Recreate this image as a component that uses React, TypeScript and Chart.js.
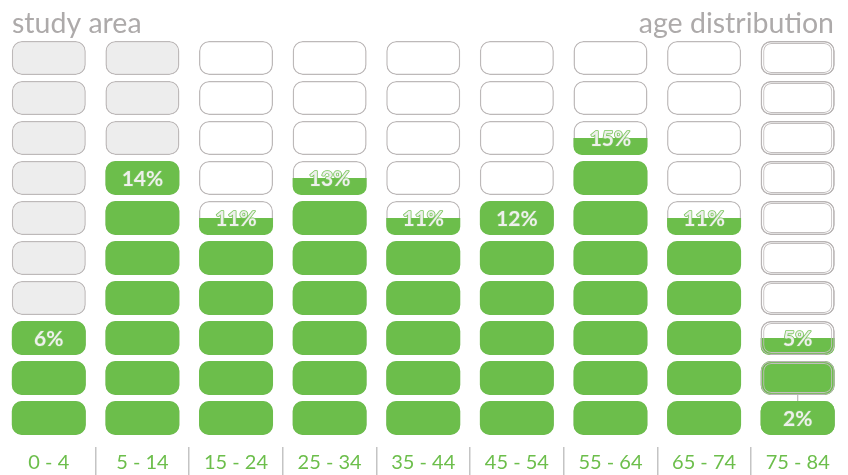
import React, { useEffect, useRef } from 'react';
import { Chart, registerables } from 'chart.js';

Chart.register(...registerables);

// ---- data ----
const categories = ['0 - 4', '5 - 14', '15 - 24', '25 - 34', '35 - 44', '45 - 54', '55 - 64', '65 - 74', '75 - 84'];
const shareValues = [6, 14, 11, 13, 11, 12, 15, 11, 5];
const subShareValues = [null, null, null, null, null, null, null, null, 2];
const titleLeft = 'study area';
const titleRight = 'age distribution';

// ---- style ----
const ROWS = 10;
const STEP = 2; // percent per cell
const GAP = 0.15;
const GREEN = '#6cbe4b';
const CELL_BORDER = '#bdb9b9';
const shadedColumns = [0, 1];
const doubleOutlineColumns = [8];
const BAR = 74 / 93.6;
const BAR_INNER = 69 / 93.6;
const RADIUS = 10;

const cellLo = (r: number) => r * STEP + GAP;
const cellHi = (r: number) => r * STEP + STEP - GAP;

const common = { grouped: false, categoryPercentage: 1, borderSkipped: false as const };

function buildDatasets() {
  const ds: any[] = [];
  for (let r = 0; r < ROWS; r++) {
    ds.push({
      ...common,
      label: 'cell' + r,
      data: categories.map(() => [cellLo(r), cellHi(r)]),
      backgroundColor: categories.map((_, i) => (shadedColumns.includes(i) ? '#ededed' : '#ffffff')),
      borderColor: CELL_BORDER,
      borderWidth: 1.5,
      borderRadius: RADIUS,
      barPercentage: BAR,
      order: 6,
    });
    ds.push({
      ...common,
      label: 'fill' + r,
      data: shareValues.map((v) => (v > cellLo(r) ? [cellLo(r), Math.min(v, cellHi(r))] : null)),
      backgroundColor: GREEN,
      borderWidth: 0,
      borderRadius: (c: any) => {
        const v = shareValues[c.dataIndex];
        return v >= cellHi(r)
          ? RADIUS
          : { topLeft: 0, topRight: 0, bottomLeft: RADIUS, bottomRight: RADIUS };
      },
      barPercentage: BAR,
      order: 5,
    });
    ds.push({
      ...common,
      label: 'outlineOuter' + r,
      data: categories.map((_, i) => (doubleOutlineColumns.includes(i) ? [cellLo(r), cellHi(r)] : null)),
      backgroundColor: 'rgba(0,0,0,0)',
      borderColor: '#b8b4b4',
      borderWidth: 1.3,
      borderRadius: RADIUS,
      barPercentage: BAR,
      order: 3,
    });
    ds.push({
      ...common,
      label: 'outlineInner' + r,
      data: categories.map((_, i) => (doubleOutlineColumns.includes(i) ? [cellLo(r) + 0.1, cellHi(r) - 0.1] : null)),
      backgroundColor: 'rgba(0,0,0,0)',
      borderColor: '#c2bebe',
      borderWidth: 1,
      borderRadius: 8,
      barPercentage: BAR_INNER,
      order: 3,
    });
    if (subShareValues.some((v) => v != null && v > cellLo(r))) {
      ds.push({
        ...common,
        label: 'sub' + r,
        data: subShareValues.map((v) => (v != null && v > cellLo(r) ? [cellLo(r), Math.min(v, cellHi(r))] : null)),
        backgroundColor: GREEN,
        borderWidth: 0,
        borderRadius: RADIUS,
        barPercentage: BAR,
        order: 1,
      });
    }
  }
  ds.push({
    ...common,
    label: 'connector',
    data: subShareValues.map((v) => (v != null ? [v - GAP, v + GAP] : null)),
    backgroundColor: CELL_BORDER,
    borderWidth: 0,
    barPercentage: 0.013,
    order: 2,
  });
  return ds;
}

const labelPlugin = {
  id: 'cellLabels',
  afterDatasetsDraw(chart: any) {
    const { ctx, scales } = chart;
    const x = scales.x;
    const y = scales.y;
    ctx.save();
    ctx.font = 'bold 21px Lato';
    ctx.textAlign = 'center';
    ctx.textBaseline = 'middle';
    ctx.lineJoin = 'round';
    const draw = (v: number | null, i: number) => {
      if (v == null) return;
      const row = Math.ceil(v / STEP) - 1;
      const yc = y.getPixelForValue(row * STEP + STEP / 2) + 1;
      const xc = x.getPixelForValue(i);
      const t = v + '%';
      ctx.strokeStyle = '#78c45a';
      ctx.lineWidth = 1.6;
      ctx.strokeText(t, xc, yc);
      ctx.fillStyle = '#eef0ec';
      ctx.fillText(t, xc, yc);
    };
    shareValues.forEach(draw);
    subShareValues.forEach(draw);

    ctx.font = '28.5px Lato';
    ctx.fillStyle = '#adaaaa';
    ctx.textBaseline = 'alphabetic';
    ctx.textAlign = 'left';
    ctx.fillText(titleLeft, 12, 32.5);
    ctx.textAlign = 'right';
    ctx.fillText(titleRight, 834, 32.5);
    ctx.restore();
  },
};

export default function App() {
  const ref = useRef<HTMLCanvasElement | null>(null);
  useEffect(() => {
    document.body.style.margin = '0';
    if (!ref.current) return;
    const chart = new Chart(ref.current, {
      type: 'bar',
      data: { labels: categories, datasets: buildDatasets() },
      options: {
        responsive: false,
        animation: false,
        layout: { padding: { top: 38, left: 2, right: 3.5, bottom: 0 } },
        plugins: { legend: { display: false }, tooltip: { enabled: false }, title: { display: false } },
        scales: {
          x: {
            type: 'category',
            offset: true,
            border: { display: false },
            grid: {
              display: true,
              offset: true,
              drawOnChartArea: false,
              drawTicks: true,
              tickLength: -28,
              lineWidth: 1.5,
              color: (c: any) => (c.type !== 'tick' || c.index === 0 ? 'rgba(0,0,0,0)' : '#c4c4c4'),
            },
            ticks: {
              color: GREEN,
              font: { family: 'Lato', size: 20 },
              mirror: true,
              padding: 0,
              maxRotation: 0,
              autoSkip: false,
            },
          },
          y: {
            display: false,
            min: -1.85,
            max: 20,
          },
        },
      },
      plugins: [labelPlugin],
    });
    (document as any).fonts?.ready?.then(() => chart.update());
    return () => chart.destroy();
  }, []);
  return <canvas ref={ref} width={848} height={475} style={{ display: 'block' }} />;
}
